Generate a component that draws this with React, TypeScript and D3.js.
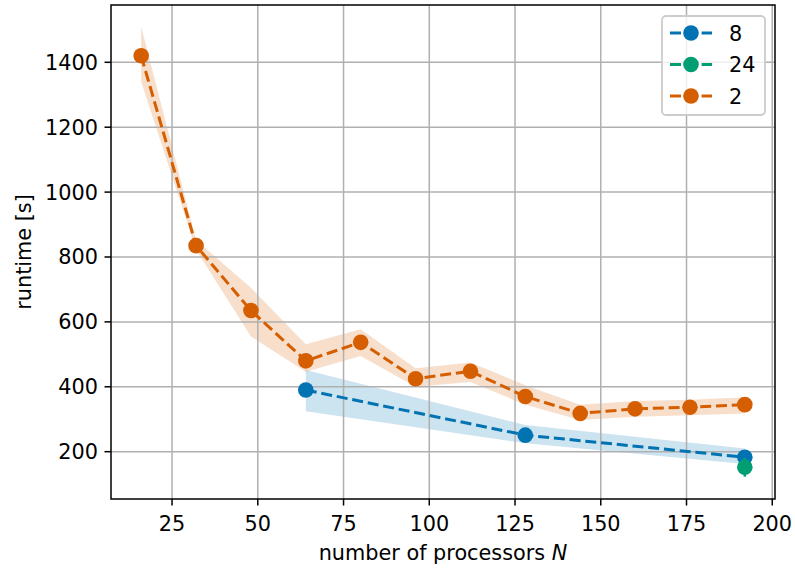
import React from "react";
import * as d3 from "d3";

// Runtime vs. number of processors, one series per configuration
const procs2 = [16, 32, 48, 64, 80, 96, 112, 128, 144, 160, 176, 192];
const runtime2 = [1420, 835, 635, 480, 537, 425, 448, 370, 318, 332, 337, 345];
const runtime2Lo = [1340, 822, 555, 446, 495, 400, 415, 345, 298, 308, 312, 318];
const runtime2Hi = [1510, 852, 705, 531, 577, 457, 475, 405, 345, 356, 360, 368];

const procs8 = [64, 128, 192];
const runtime8 = [390, 251, 183];
const runtime8Lo = [325, 226, 162];
const runtime8Hi = [452, 282, 210];

const procs24 = [192];
const runtime24 = [152];
const runtime24Lo = [123];
const runtime24Hi = [181];

const xTicks = [25, 50, 75, 100, 125, 150, 175, 200];
const yTicks = [200, 400, 600, 800, 1000, 1200, 1400];

const legendLabels = ["8", "24", "2"];

const C_BLUE = "#0173b2";
const C_GREEN = "#029e73";
const C_ORANGE = "#d55e00";

const W = 795;
const H = 570;
const M = { left: 111, right: 775, top: 5, bottom: 499 };
const FONT = "'DejaVu Sans', sans-serif";
const FS = 20.8;

type Series = {
  label: string;
  color: string;
  x: number[];
  y: number[];
  lo: number[];
  hi: number[];
};

const series: Series[] = [
  { label: legendLabels[0], color: C_BLUE, x: procs8, y: runtime8, lo: runtime8Lo, hi: runtime8Hi },
  { label: legendLabels[1], color: C_GREEN, x: procs24, y: runtime24, lo: runtime24Lo, hi: runtime24Hi },
  { label: legendLabels[2], color: C_ORANGE, x: procs2, y: runtime2, lo: runtime2Lo, hi: runtime2Hi },
];

export default function App() {
  const x = d3.scaleLinear().domain([7.2, 200.8]).range([M.left, M.right]);
  const y = d3.scaleLinear().domain([54.2, 1576.6]).range([M.bottom, M.top]);

  const line = d3
    .line<[number, number]>()
    .x((d) => x(d[0]))
    .y((d) => y(d[1]));

  const area = d3
    .area<[number, number, number]>()
    .x((d) => x(d[0]))
    .y0((d) => y(d[1]))
    .y1((d) => y(d[2]));

  const lw = 3;
  const dash = "11 4.8";
  const r = 7.8;

  return (
    <svg
      width={W}
      height={H}
      style={{ position: "absolute", left: 0, top: 0, background: "#fff" }}
      fontFamily={FONT}
    >
      <rect x={0} y={0} width={W} height={H} fill="#fff" />

      {/* uncertainty bands */}
      {series.map((s) =>
        s.x.length > 1 ? (
          <path
            key={"band" + s.label}
            d={area(s.x.map((v, i) => [v, s.lo[i], s.hi[i]] as [number, number, number])) || ""}
            fill={s.color}
            fillOpacity={0.2}
            stroke="none"
          />
        ) : null
      )}

      {/* grid */}
      {xTicks.map((t) => (
        <line key={"gx" + t} x1={x(t)} x2={x(t)} y1={M.top} y2={M.bottom} stroke="#b0b0b0" strokeWidth={1.5} />
      ))}
      {yTicks.map((t) => (
        <line key={"gy" + t} x1={M.left} x2={M.right} y1={y(t)} y2={y(t)} stroke="#b0b0b0" strokeWidth={1.5} />
      ))}

      {/* series lines and markers */}
      {series.map((s) => (
        <g key={"s" + s.label}>
          {s.x.length === 1 && (
            <line
              x1={x(s.x[0])}
              x2={x(s.x[0])}
              y1={y(s.lo[0])}
              y2={y(s.hi[0])}
              stroke={s.color}
              strokeWidth={2.5}
            />
          )}
          {s.x.length > 1 && (
            <path
              d={line(s.x.map((v, i) => [v, s.y[i]] as [number, number])) || ""}
              fill="none"
              stroke={s.color}
              strokeWidth={lw}
              strokeDasharray={dash}
            />
          )}
          {s.x.map((v, i) => (
            <circle key={i} cx={x(v)} cy={y(s.y[i])} r={r} fill={s.color} />
          ))}
        </g>
      ))}

      {/* spines */}
      <rect
        x={M.left}
        y={M.top}
        width={M.right - M.left}
        height={M.bottom - M.top}
        fill="none"
        stroke="#000"
        strokeWidth={1.5}
      />

      {/* x ticks */}
      {xTicks.map((t) => (
        <g key={"xt" + t}>
          <line x1={x(t)} x2={x(t)} y1={M.bottom} y2={M.bottom + 6.5} stroke="#000" strokeWidth={1.5} />
          <text x={x(t)} y={M.bottom + 31.5} textAnchor="middle" fontSize={FS} fill="#000">
            {t}
          </text>
        </g>
      ))}
      {/* y ticks */}
      {yTicks.map((t) => (
        <g key={"yt" + t}>
          <line x1={M.left - 6.5} x2={M.left} y1={y(t)} y2={y(t)} stroke="#000" strokeWidth={1.5} />
          <text x={M.left - 13} y={y(t) + 7.5} textAnchor="end" fontSize={FS} fill="#000">
            {t}
          </text>
        </g>
      ))}

      {/* axis labels */}
      <text x={(M.left + M.right) / 2} y={559.5} textAnchor="middle" fontSize={FS} fill="#000">
        number of processors <tspan fontStyle="italic">N</tspan>
      </text>
      <text
        transform={`translate(31, ${(M.top + M.bottom) / 2}) rotate(-90)`}
        textAnchor="middle"
        fontSize={FS}
        fill="#000"
      >
        runtime [s]
      </text>

      {/* legend */}
      <g>
        <rect x={662} y={16} width={103} height={99} rx={4} fill="#fff" fillOpacity={0.8} stroke="#cccccc" strokeWidth={1.8} />
        {series.map((s, i) => {
          const ry = 33 + i * 31.5;
          return (
            <g key={"lg" + s.label}>
              <line x1={670} x2={712} y1={ry} y2={ry} stroke={s.color} strokeWidth={lw} strokeDasharray={dash} />
              <circle cx={691} cy={ry} r={r} fill={s.color} />
              <text x={729} y={ry + 7.5} fontSize={FS} fill="#000">
                {s.label}
              </text>
            </g>
          );
        })}
      </g>
    </svg>
  );
}
